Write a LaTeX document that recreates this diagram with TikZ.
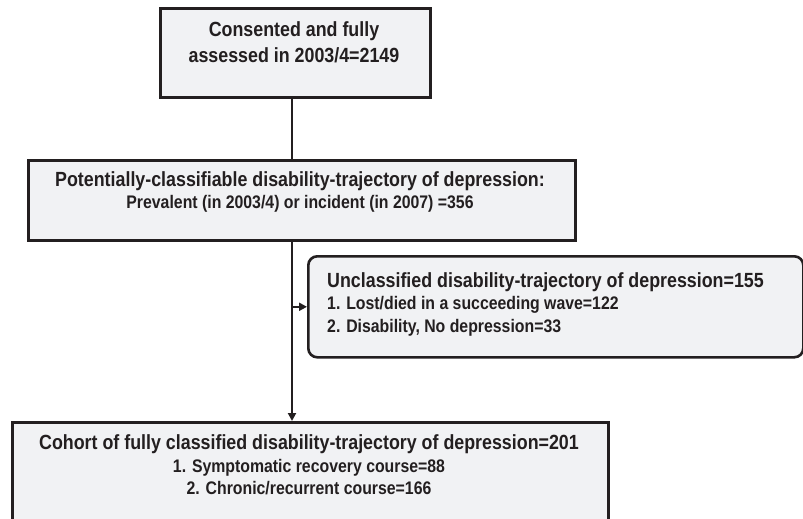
\documentclass[tikz,border=0pt]{standalone}
\usepackage{fontspec}
\setmainfont{Liberation Sans}[FakeStretch=0.87]
\usetikzlibrary{arrows.meta}
\definecolor{boxfill}{HTML}{F1F2F4}
\definecolor{boxline}{HTML}{231F20}
\begin{document}
\begin{tikzpicture}[x=1pt,y=-1pt,
  box/.style={draw=boxline,line width=2.6pt,fill=boxfill,inner sep=0pt,anchor=north west},
  big/.style={inner sep=0pt,anchor=base,text=boxline,font=\bfseries\fontsize{20.5}{24}\selectfont},
  small/.style={inner sep=0pt,anchor=base,text=boxline,font=\bfseries\fontsize{18.2}{22}\selectfont},
  conn/.style={draw=boxline,line width=2pt},
  arr/.style={conn,-{Triangle[length=8pt,width=8pt]}}]
\useasboundingbox (0,0) rectangle (803,519);
\clip (0,0) rectangle (803,519);
% boxes
\node[box,minimum width=270pt,minimum height=89pt] (b1) at (159,7) {};
\node[box,minimum width=547pt,minimum height=80pt] (b2) at (27,159) {};
\node[box,rounded corners=9pt,minimum width=495pt,minimum height=101pt] (b3) at (307,255) {};
\node[box,minimum width=596pt,minimum height=130pt] (b4) at (11,421) {};
% connectors
\coordinate (j1) at (292,0);
\draw[conn] (b1.south -| j1) -- (b2.north -| j1);
\draw[arr] (b2.south -| j1) -- (b4.north -| j1);
\draw[arr] (b3.west -| j1) -- (b3.west);
% texts
\node[big] (t1a) at (294,37) {Consented and fully};
\node[big] (t1b) at (294,63) {assessed in 2003/4=2149};
\node[big] (t2a) at (300,186) {Potentially-classifiable disability-trajectory of depression:};
\node[small] (t2b) at (300,208) {Prevalent (in 2003/4) or incident (in 2007) =356};
\node[big,anchor=base west] (t3a) at (327,287) {Unclassified disability-trajectory of depression=155};
\node[small,anchor=base west] (t3b) at (327,309) {1. Lost/died in a succeeding wave=122};
\node[small,anchor=base west] (t3c) at (327,332) {2. Disability, No depression=33};
\node[big] (t4a) at (309,449) {Cohort of fully classified disability-trajectory of depression=201};
\node[small] (t4b) at (309,472) {1. Symptomatic recovery course=88};
\node[small] (t4c) at (309,494) {2. Chronic/recurrent course=166};
\end{tikzpicture}
\end{document}
